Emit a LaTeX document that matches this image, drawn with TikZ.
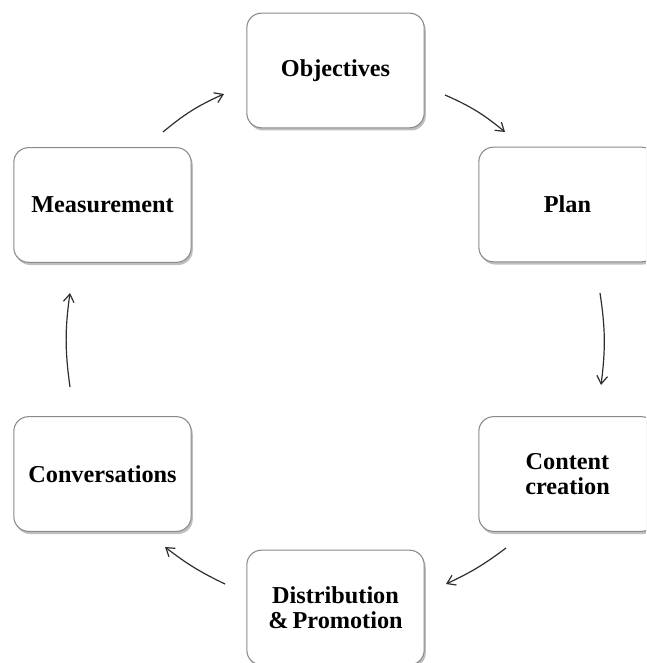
\documentclass[tikz,border=0pt]{standalone}
\usepackage{fontspec}
\setmainfont{Liberation Serif}
\usetikzlibrary{arrows.meta,shadows}
\definecolor{boxline}{HTML}{8A8A8A}
\definecolor{arrowcol}{HTML}{2E2E2E}
\begin{document}
\begin{tikzpicture}[x=0.75pt,y=-0.75pt,
  stepbox/.style={draw=boxline, line width=0.8pt, fill=white, rounded corners=11pt,
    minimum width=133pt, minimum height=86pt, align=center,
    font=\fontsize{18.2}{19}\selectfont\bfseries,
    drop shadow={shadow xshift=1.2pt, shadow yshift=-2pt, fill=black!50, opacity=0.5}},
  flow/.style={draw=arrowcol, line width=0.9pt, -{Straight Barb[length=6pt,width=8pt]}}]
\useasboundingbox (0,0) rectangle (646,663);
\clip (0,0) rectangle (646,663);
\node[stepbox] (obj)  at (335.5,70.5) {Objectives};
\node[stepbox] (plan) at (567.5,204.5) {Plan};
\node[stepbox] (cont) at (567.5,474) {Content\\creation};
\node[stepbox] (dist) at (335.5,607.5) {Distribution\\\&\,Promotion};
\node[stepbox] (conv) at (102.5,474) {Conversations};
\node[stepbox] (meas) at (102.5,205) {Measurement};
\coordinate (a1s) at (445,95);  \coordinate (a1e) at (505,132);
\coordinate (a2s) at (600,293); \coordinate (a2e) at (601,385);
\coordinate (a3s) at (506,548); \coordinate (a3e) at (446,584);
\coordinate (a4s) at (225,584); \coordinate (a4e) at (165,547);
\coordinate (a5s) at (70,387);  \coordinate (a5e) at (70,293);
\coordinate (a6s) at (163,132); \coordinate (a6e) at (224,94);
\draw[flow] (a1s) to[bend left=8] (a1e);
\draw[flow] (a2s) to[bend left=8] (a2e);
\draw[flow] (a3s) to[bend left=6] (a3e);
\draw[flow] (a4s) to[bend left=6] (a4e);
\draw[flow] (a5s) to[bend left=8] (a5e);
\draw[flow] (a6s) to[bend left=8] (a6e);
\end{tikzpicture}
\end{document}
